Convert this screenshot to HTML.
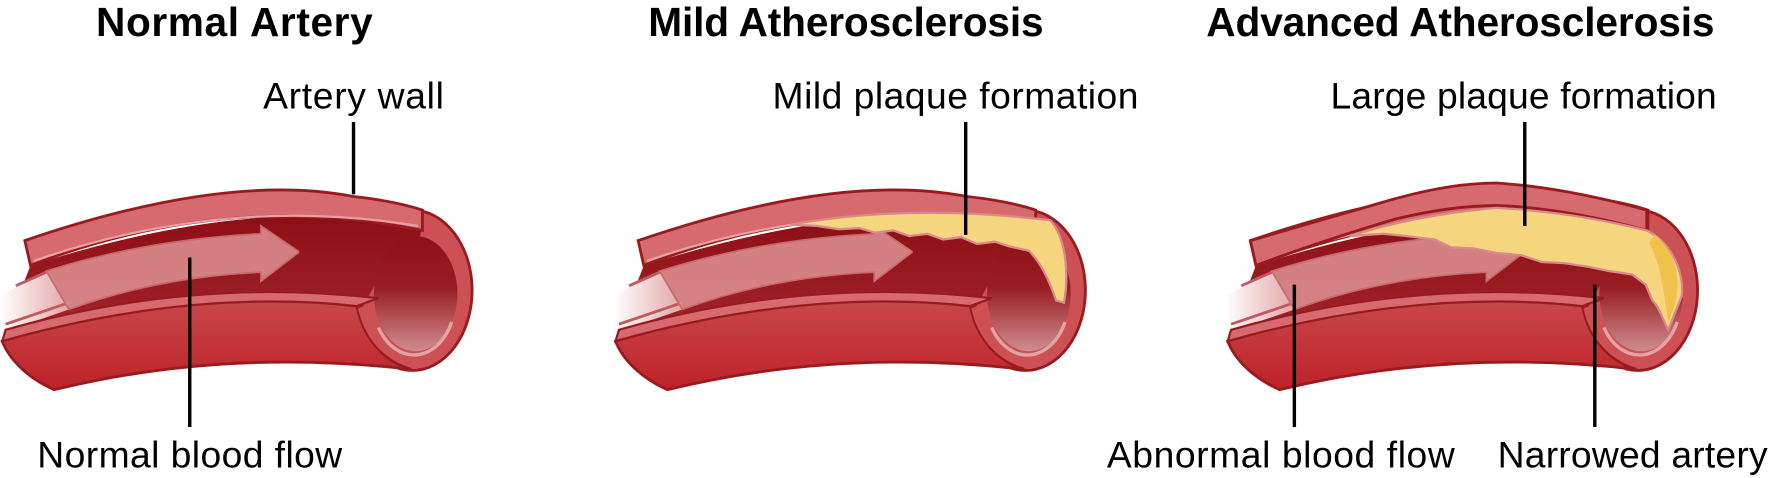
<!DOCTYPE html>
<html><head><meta charset="utf-8"><style>
html,body{margin:0;padding:0;background:#fff;}
svg{display:block;}
text{font-family:"Liberation Sans",sans-serif;fill:#000;}
.t{font-weight:bold;font-size:36px;}
.l{font-size:33px;}
</style></head><body>
<svg width="1771" height="478" viewBox="0 0 1568 423.2" preserveAspectRatio="none">
<defs>
<linearGradient id="hole" x1="0" y1="0" x2="0" y2="1"><stop offset="0" stop-color="#8f1016"/><stop offset="0.45" stop-color="#991d23"/><stop offset="1" stop-color="#cf8d8f"/></linearGradient>
<linearGradient id="ghost" x1="0" y1="0" x2="1" y2="0"><stop offset="0" stop-color="#fff"/><stop offset="1" stop-color="#e3a5a7"/></linearGradient>
<linearGradient id="body" x1="0" y1="0" x2="0" y2="1"><stop offset="0" stop-color="#c9474b"/><stop offset="1" stop-color="#bd2228"/></linearGradient>
<linearGradient id="lum" gradientUnits="userSpaceOnUse" x1="0" y1="185" x2="0" y2="300"><stop offset="0" stop-color="#8c0d14"/><stop offset="1" stop-color="#a3262c"/></linearGradient>
<g id="artery">
  <path d="M27,235 Q238,168 374,204 L404,240 L372,300 L335,264 Q170,245 5,292 Z" fill="url(#lum)"/>
  <path d="M0,262 L41,240 L61,274 L0,295 Z" fill="url(#ghost)"/>
  <path d="M14,253 L41,241 M5,287 L61,268" stroke="#c05a5e" stroke-width="2.5" fill="none"/>
  <path d="M41,240 Q130,212 231,207 L231,200 L265,223 L231,249 L231,241 Q140,245 61,274 Z" fill="#e39a9c" fill-opacity="0.8" stroke="#c86a6d" stroke-width="1.5"/>
  <ellipse cx="365" cy="257" rx="53" ry="71" fill="#cc5054" stroke="#9a1b1f" stroke-width="2.5"/>
  <path d="M265,188 L374,198 L372,209 L348,220 L333,250 L320,274 L265,272 Z" fill="url(#lum)"/>
  <ellipse cx="368" cy="260" rx="37" ry="51" fill="url(#hole)"/>
  <path d="M335,290 A37,51 0 0 0 400,285" stroke="#e2a3a5" stroke-width="3" fill="none"/>
  <path d="M22,213 Q200,152 313,174 Q350,178 374,186 L374,204 Q200,168 27,235 Z" fill="#d66a6e" stroke="#9a1b1f" stroke-width="2.5"/>
  <path d="M30,231 Q200,172 370,200" stroke="#e9a0a2" stroke-width="2" fill="none"/>
  <path d="M2,302 Q170,252 316,271 C322,300 340,320 364,327 Q200,308 48,345 C25,335 8,318 2,302 Z" fill="url(#body)" stroke="#9a1b1f" stroke-width="2.5"/>
  <path d="M317,273 C323,300 340,318 362,325 L350,316 C337,304 330,290 331,268 Z" fill="#cc5054"/>
  <path d="M5,292 Q170,245 335,264 L316,271 Q170,255 2,302 Z" fill="#d66a6e" stroke="#9a1b1f" stroke-width="2"/>
</g>
</defs>

<text class="t" x="85" y="32" textLength="245">Normal Artery</text>
<text class="t" x="574" y="32" textLength="350">Mild Atherosclerosis</text>
<text class="t" x="1068" y="32" textLength="450">Advanced Atherosclerosis</text>

<use href="#artery" x="0" y="0"/>
<use href="#artery" x="543" y="0"/>
<g transform="translate(543,0)">
  <path d="M157,199 Q260,180 387,195 C400,210 404,240 399,268 L392,266 C386,248 378,232 368,222 L350,218 L338,214 L322,216 L308,210 L292,212 L278,207 L262,209 L248,204 L232,206 L218,202 L200,203 L180,200 Z" fill="#f5d67f" stroke="#d98a8a" stroke-width="2"/>
</g>
<use href="#artery" x="1085" y="0"/>
<g transform="translate(1085,0)">
  <path d="M22,213 L150,176 Q200,162 240,162 Q300,166 373,186 L373,204 Q300,184 240,182 Q200,182 150,194 Q80,215 27,235 Z" fill="#d66a6e" stroke="#9a1b1f" stroke-width="2.5"/>
  <path d="M110,209 Q170,190 240,184 Q310,188 373,204 C395,215 406,240 404,262 L392,292 C386,280 384,272 378,266 L372,252 L360,243 L340,240 L320,236 L300,233 L280,232 L262,226 L240,224 L220,220 L200,219 L185,212 L160,209 L140,207 Z" fill="#f5d67f" stroke="#d98a8a" stroke-width="2"/>
  <path d="M380,208 C398,222 404,245 398,270 L392,285 C388,260 386,235 375,215 Z" fill="#f0c24b"/>
</g>

<g stroke="#000" stroke-width="3">
  <line x1="313" y1="108" x2="313" y2="172"/>
  <line x1="168" y1="228" x2="168" y2="378"/>
  <line x1="855" y1="108" x2="855" y2="208"/>
  <line x1="1350" y1="108" x2="1350" y2="200"/>
  <line x1="1146" y1="252" x2="1146" y2="378"/>
  <line x1="1412" y1="252" x2="1412" y2="378"/>
</g>

<text class="l" x="233" y="96" textLength="160">Artery wall</text>
<text class="l" x="33" y="414" textLength="270">Normal blood flow</text>
<text class="l" x="684" y="96" textLength="324">Mild plaque formation</text>
<text class="l" x="1178" y="96" textLength="342">Large plaque formation</text>
<text class="l" x="980" y="414" textLength="308">Abnormal blood flow</text>
<text class="l" x="1326" y="414" textLength="239">Narrowed artery</text>
</svg>
</body></html>
